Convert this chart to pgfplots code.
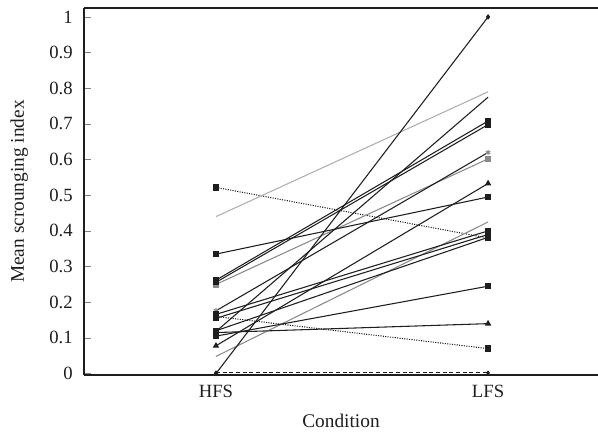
\documentclass[border=0pt]{standalone}
\usepackage{fontspec}
\setmainfont{Liberation Serif}
\usepackage{pgfplots}
\pgfplotsset{compat=1.18}

\definecolor{ink}{HTML}{1E1E1E}
\definecolor{lightg}{HTML}{AFAFAF}
\definecolor{midg}{HTML}{8A8A8A}

\begin{document}
\begin{tikzpicture}[x=1pt,y=1pt]
  % picture is 598x431 px at 0.75pt/px, axis box from (84,8) to (598,375)
  \useasboundingbox (-63pt,-42pt) rectangle (385.5pt,281.25pt);
  \begin{axis}[
      at={(0pt,0pt)}, anchor=south west,
      scale only axis,
      width=385.5pt, height=275.25pt,
      xmin=0.515, xmax=2.404,
      ymin=-0.004, ymax=1.025,
      axis x line*=box, axis y line*=left,
      axis line style={-, ink, line width=0.8pt},
      xtick={1,2}, xticklabels={HFS,LFS},
      major x tick style={draw=none},
      ytick={0,0.1,...,1},
      ytick pos=left,
      tick align=inside,
      major tick length=5pt,
      yticklabel style={/pgf/number format/fixed, /pgf/number format/precision=1, xshift=-5pt},
      xticklabel style={yshift=-4pt},
      /pgf/number format/assume math mode=true,
      tick label style={font=\fontsize{14}{16}\selectfont, text=ink},
      label style={font=\fontsize{14.5}{16}\selectfont, text=ink},
      xlabel={Condition},
      ylabel={Mean scrounging index},
      xlabel style={yshift=-5.5pt},
      ylabel style={yshift=9pt},
      every axis plot/.append style={line width=0.8pt, mark size=2pt},
    ]
    % dotted
    \addplot[ink, densely dotted, mark=square*, mark options={solid}] coordinates {(1,0.522) (2,0.380)};
    \addplot[ink, densely dotted, mark=square*, mark options={solid}] coordinates {(1,0.160) (2,0.070)};
    % gray lines
    \addplot[lightg, no marks] coordinates {(1,0.440) (2,0.790)};
    \addplot[midg, mark=square*] coordinates {(1,0.250) (2,0.602)};
    \addplot[midg, no marks] coordinates {(1,0.048) (2,0.425)};
    % black lines
    \addplot[ink, mark=square*] coordinates {(1,0.335) (2,0.495)};
    \addplot[ink, mark=square*] coordinates {(1,0.262) (2,0.708)};
    \addplot[ink, mark=square*] coordinates {(1,0.256) (2,0.698)};
    \addplot[ink, mark=asterisk, mark options={midg}] coordinates {(1,0.176) (2,0.620)};
    \addplot[ink, mark=square*] coordinates {(1,0.166) (2,0.400)};
    \addplot[ink, mark=square*] coordinates {(1,0.155) (2,0.390)};
    \addplot[ink, mark=square*] coordinates {(1,0.120) (2,0.382)};
    \addplot[ink, no marks] coordinates {(1,0.118) (2,0.775)};
    \addplot[ink, mark=triangle*] coordinates {(1,0.115) (2,0.140)};
    \addplot[ink, mark=square*] coordinates {(1,0.105) (2,0.245)};
    \addplot[ink, mark=triangle*] coordinates {(1,0.078) (2,0.533)};
    \addplot[ink, mark=diamond*, mark size=1.5pt] coordinates {(1,0.000) (2,1.000)};
    \addplot[ink, densely dashed, mark=diamond*, mark size=1.2pt, mark options={solid}] coordinates {(1,0.002) (2,0.002)};
  \end{axis}
\end{tikzpicture}
\end{document}
